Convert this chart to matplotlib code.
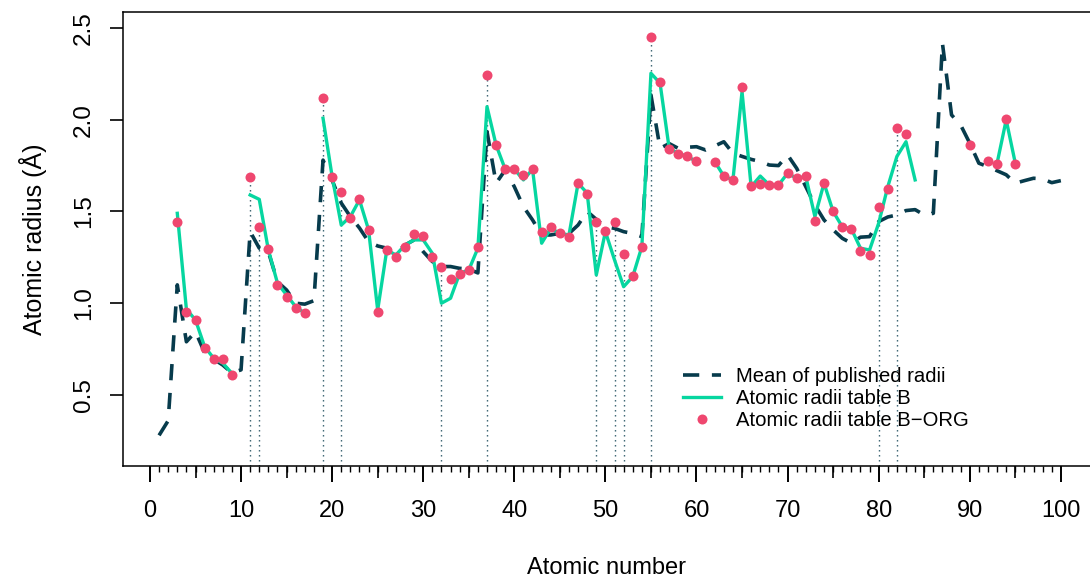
import numpy as np
import matplotlib
matplotlib.use("Agg")
import matplotlib.pyplot as plt
from matplotlib.ticker import FixedLocator

plt.rcParams["font.family"] = ["Liberation Sans", "DejaVu Sans"]

nan = np.nan

# Mean of published radii, Z = 1..100
mean_z = list(range(1, 101))
mean_r = [0.28, 0.36, 1.10, 0.79, 0.845, 0.73, 0.695, 0.663, 0.62, 0.637,
          1.39, 1.30, 1.28, 1.117, 1.072, 1.00, 0.995, 1.014, 1.78, 1.67,
          1.546, 1.472, 1.41, 1.335, 1.312, 1.30, 1.275, 1.317, 1.345, 1.281,
          1.227, 1.20, 1.20, 1.19, 1.187, 1.165, 1.935, 1.654, 1.726, 1.635,
          1.526, 1.454, 1.372, 1.372, 1.381, 1.38, 1.426, 1.50, 1.457, 1.417,
          1.408, 1.39, 1.38, 1.363, 2.135, 1.844, 1.87, 1.844, 1.85, 1.853,
          1.835, 1.857, 1.88, 1.817, 1.80, 1.784, 1.772, 1.753, 1.75, 1.808,
          1.735, 1.635, 1.535, 1.454, 1.40, 1.354, 1.327, 1.36, 1.363, 1.445,
          1.47, 1.481, 1.505, 1.51, 1.481, 1.49, 2.416, 2.026, 1.971, 1.872,
          1.763, 1.744, 1.722, 1.70, 1.654, 1.668, 1.681, 1.678, 1.657, 1.668]

# Atomic radii table B, Z = 3..95 (nan where no value)
tab_b_z = list(range(3, 96))
tab_b_r = [1.49, 0.967, 0.909, 0.763, 0.70, 0.673, 0.618, nan,
           1.59, 1.566, 1.29, 1.109, 1.045, 0.981, 0.945, nan,
           2.008, 1.69, 1.426, 1.472, 1.563, 1.40, 0.963, 1.29, 1.263, 1.317,
           1.345, 1.345, 1.272, 1.0, 1.027, 1.163, 1.181, 1.30,
           2.071, 1.862, 1.73, 1.73, 1.672, 1.73, 1.327, 1.408, 1.381, 1.372,
           1.654, 1.60, 1.154, 1.39, 1.236, 1.09, 1.145, 1.308,
           2.253, 2.199, 1.844, 1.817, 1.80, 1.772, nan, 1.772, 1.693, 1.672,
           2.153, 1.635, 1.693, 1.644, 1.644, 1.708, 1.681, 1.69, 1.472, 1.654,
           1.50, 1.417, 1.405, 1.30, 1.29, 1.436, 1.635, 1.80, 1.88, 1.672,
           nan, nan, nan, nan, nan, nan, nan, nan,
           1.763, 1.999, 1.763]

# Atomic radii table B-ORG
org_z = [3, 4, 5, 6, 7, 8, 9, 11, 12, 13, 14, 15, 16, 17,
         19, 20, 21, 22, 23, 24, 25, 26, 27, 28, 29, 30, 31, 32, 33, 34, 35, 36,
         37, 38, 39, 40, 41, 42, 43, 44, 45, 46, 47, 48, 49, 50, 51, 52, 53, 54,
         55, 56, 57, 58, 59, 60, 62, 63, 64, 65, 66, 67, 68, 69, 70, 71, 72,
         73, 74, 75, 76, 77, 78, 79, 80, 81, 82, 83, 90, 92, 93, 94, 95]
org_r = [1.445, 0.954, 0.907, 0.756, 0.696, 0.696, 0.607,
         1.69, 1.414, 1.294, 1.101, 1.036, 0.976, 0.945,
         2.117, 1.686, 1.608, 1.466, 1.568, 1.40, 0.954, 1.29, 1.25, 1.308,
         1.377, 1.366, 1.25, 1.196, 1.13, 1.161, 1.18, 1.305,
         2.244, 1.862, 1.73, 1.73, 1.699, 1.73, 1.39, 1.417, 1.381, 1.363,
         1.654, 1.595, 1.441, 1.392, 1.441, 1.266, 1.149, 1.308,
         2.449, 2.204, 1.841, 1.813, 1.802, 1.773, 1.77, 1.696, 1.672, 2.18,
         1.637, 1.652, 1.646, 1.646, 1.708, 1.681, 1.693,
         1.448, 1.655, 1.50, 1.417, 1.405, 1.285, 1.265, 1.526, 1.623,
         1.953, 1.924, 1.864, 1.777, 1.759, 2.006, 1.759]

# Elements marked with vertical guides
marked_z = [11, 12, 19, 21, 32, 37, 49, 51, 52, 55, 80, 82]

y_ticks = [0.5, 1.0, 1.5, 2.0, 2.5]
y_tick_labels = ["0.5", "1.0", "1.5", "2.0", "2.5"]

DARK = "#073B4C"
GREEN = "#06D6A0"
PINK = "#EF476F"

W, H = 1090, 578
fig = plt.figure(figsize=(W / 100, H / 100), dpi=100)
ax = fig.add_axes([123 / W, 112 / H, 1 - 123 / W, (466 - 12) / H])

ymin, ymax = 0.113, 2.587
ax.set_xlim(-2.96, 103.2)
ax.set_ylim(ymin, ymax)

org_lookup = dict(zip(org_z, org_r))
ax.vlines(marked_z, ymin, [org_lookup[z] for z in marked_z],
          colors=DARK, linestyles=(0, (1, 2.6)), linewidth=1.0, alpha=0.85,
          zorder=1)

ax.plot(mean_z, mean_r, color=DARK, linewidth=2.6, dashes=(4.5, 3.5),
        label="Mean of published radii", zorder=2)
ax.plot(tab_b_z, tab_b_r, color=GREEN, linewidth=2.4,
        label="Atomic radii table B", zorder=3)
ax.plot(org_z, org_r, linestyle="none", marker="o", markersize=7.2,
        color=PINK, markeredgewidth=0, label="Atomic radii table B\u2212ORG",
        zorder=4)

ax.spines["right"].set_visible(False)
for side in ("left", "top", "bottom"):
    ax.spines[side].set_linewidth(1.1)

# x axis: labelled ticks every 10, medium ticks every 5, small ticks every 1
ax.xaxis.set_major_locator(FixedLocator(np.arange(0, 101, 10)))
ax.xaxis.set_minor_locator(FixedLocator(np.arange(0, 101, 1)))
ax.tick_params(axis="x", which="major", length=11.5, width=1.4, pad=13,
               labelsize=17, direction="out")
ax.tick_params(axis="x", which="minor", length=4.3, width=1.0, direction="out")
sec = ax.secondary_xaxis("bottom")
sec.set_xticks(np.arange(5, 100, 10))
sec.tick_params(axis="x", length=8.6, width=1.2, labelbottom=False,
                direction="out")
sec.spines["bottom"].set_visible(False)

ax.yaxis.set_major_locator(FixedLocator(y_ticks))
ax.set_yticklabels(y_tick_labels)
ax.tick_params(axis="y", length=9.4, width=1.2, pad=11, labelsize=17.5,
               direction="out")
for lab in ax.get_yticklabels():
    lab.set_rotation(90)
    lab.set_va("center")

ax.set_xlabel("Atomic number", fontsize=17, va="center")
ax.xaxis.set_label_coords(0.5, (466 - 568) / 454)
ax.set_ylabel("Atomic radius (\u00c5)", fontsize=18, va="center")
ax.yaxis.set_label_coords((33 - 123) / 967, 0.5)

ax.legend(loc="upper left", bbox_to_anchor=(675 / W, 1 - 359 / H),
          bbox_transform=fig.transFigure, frameon=False, fontsize=14.6,
          handlelength=1.85, handletextpad=0.75, labelspacing=0.15,
          borderaxespad=0, borderpad=0.4)

fig.savefig("out.png", dpi=100)
